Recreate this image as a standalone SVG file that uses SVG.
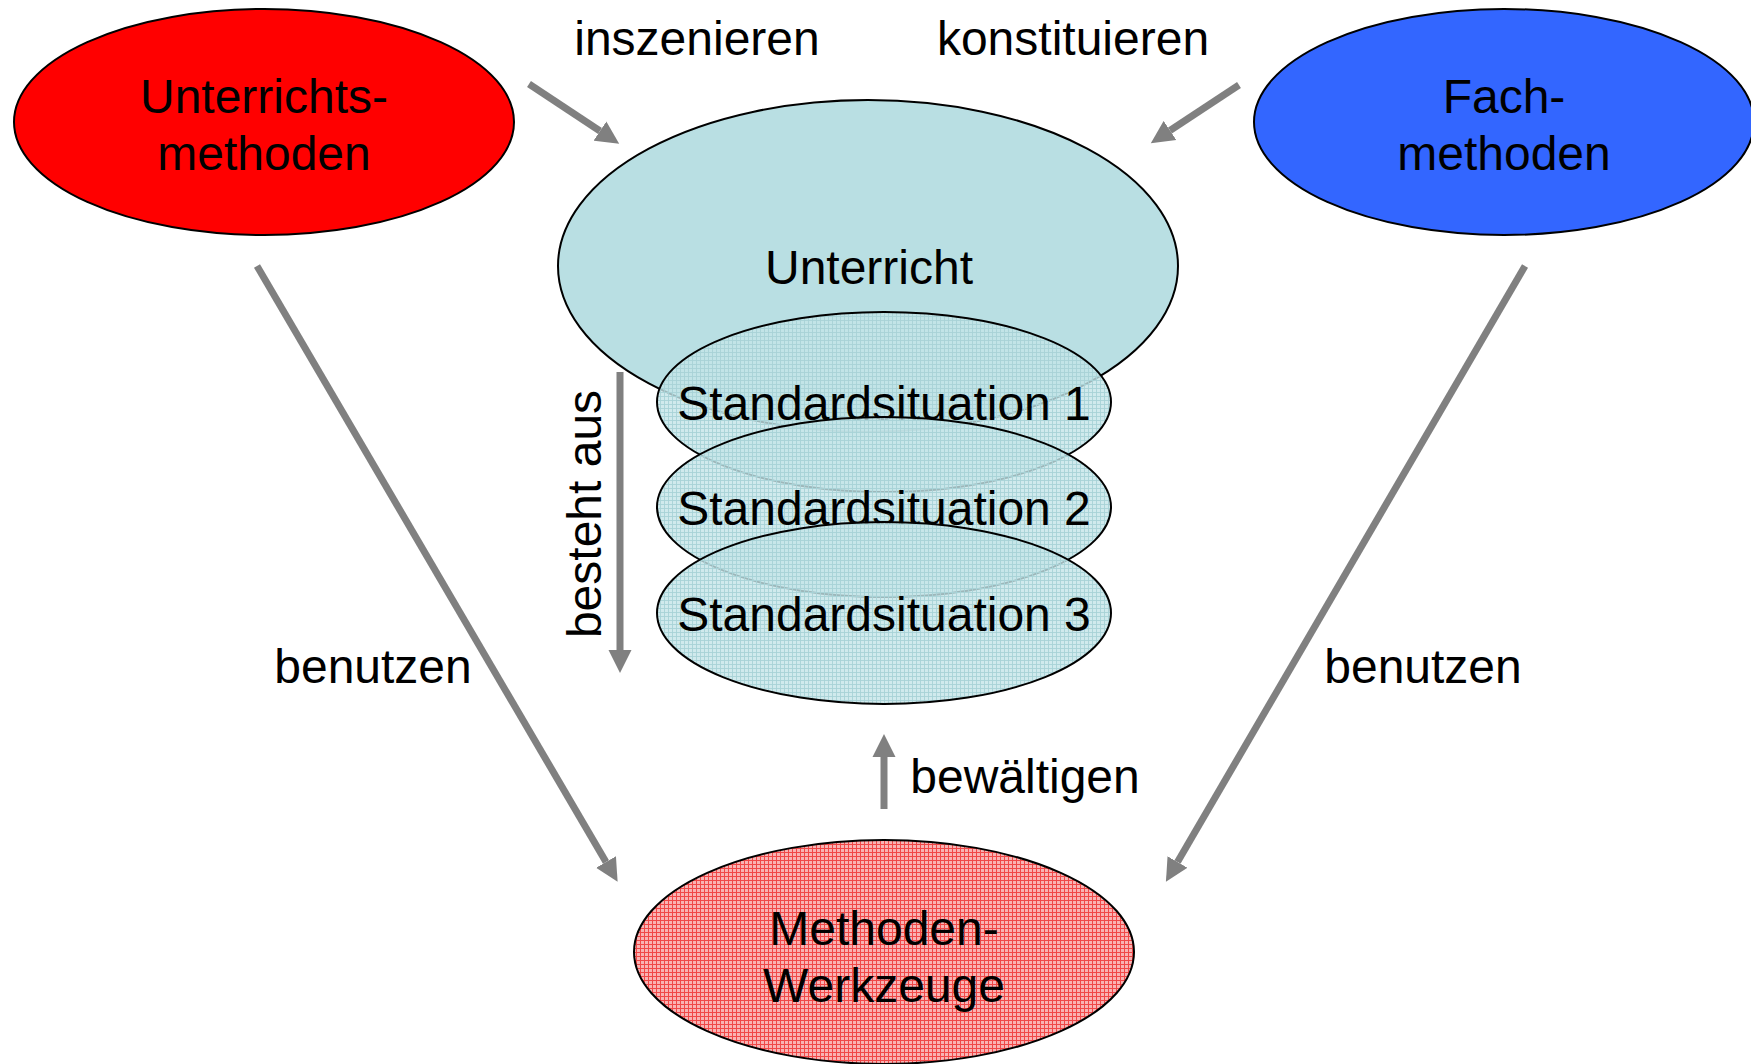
<svg xmlns="http://www.w3.org/2000/svg" width="1751" height="1064" viewBox="0 0 1751 1064">
<style>
text{font-family:"Liberation Sans",Arial,sans-serif;font-size:48px;fill:#000;text-anchor:middle}
.node{stroke:#000;stroke-width:2}
.conn line{stroke:#808080;stroke-width:7;marker-end:url(#ah)}
</style>
<defs>
<marker id="ah" markerUnits="userSpaceOnUse" markerWidth="24" markerHeight="24" viewBox="0 -12 24 24" refX="0" refY="0" orient="auto">
<path d="M0,-11.5 L23,0 L0,11.5 z" fill="#808080"/>
</marker>
<pattern id="pink" width="4" height="4" patternUnits="userSpaceOnUse">
<rect width="4" height="4" fill="#F9B3B3"/>
<path d="M0,0.5 H4 M0.5,0 V4" stroke="#F04848" stroke-width="1"/>
</pattern>
<pattern id="cyan" width="4" height="4" patternUnits="userSpaceOnUse">
<rect width="4" height="4" fill="#C4E5E8" fill-opacity="0.8"/>
<path d="M0,0.5 H4 M0.5,0 V4" stroke="#A9D3D8" stroke-width="1" stroke-opacity="0.9"/>
</pattern>
</defs>
<rect width="1751" height="1064" fill="#fff"/>
<g id="unterrichtsmethoden">
<ellipse class="node" cx="264" cy="122" rx="250" ry="113" fill="#FF0000"/>
<text x="264" y="113">Unterrichts-</text>
<text x="264" y="170">methoden</text>
</g>
<g id="fachmethoden">
<ellipse class="node" cx="1504" cy="122" rx="250" ry="113" fill="#3366FF"/>
<text x="1504" y="113">Fach-</text>
<text x="1504" y="170">methoden</text>
</g>
<g id="unterricht">
<ellipse class="node" cx="868" cy="266" rx="310" ry="166" fill="#B9DFE3"/>
<text x="869" y="284">Unterricht</text>
</g>
<g id="standardsituation1">
<ellipse class="node" cx="884" cy="402" rx="227" ry="90" fill="url(#cyan)"/>
<text x="884" y="420">Standardsituation 1</text>
</g>
<g id="standardsituation2">
<ellipse class="node" cx="884" cy="507" rx="227" ry="90" fill="url(#cyan)"/>
<text x="884" y="525">Standardsituation 2</text>
</g>
<g id="standardsituation3">
<ellipse class="node" cx="884" cy="613" rx="227" ry="91" fill="url(#cyan)"/>
<text x="884" y="631">Standardsituation 3</text>
</g>
<g id="methodenwerkzeuge">
<ellipse class="node" cx="884" cy="952" rx="250" ry="112" fill="url(#pink)"/>
<text x="884" y="945">Methoden-</text>
<text x="884" y="1002">Werkzeuge</text>
</g>
<g class="conn" id="connectors">
<line x1="529" y1="84" x2="600" y2="131"/>
<line x1="1239" y1="85" x2="1170" y2="130.5"/>
<line x1="620" y1="372" x2="620" y2="650"/>
<line x1="257" y1="266" x2="606" y2="862"/>
<line x1="1525" y1="266" x2="1177.5" y2="862"/>
<line x1="884" y1="809" x2="884" y2="757"/>
</g>
<g id="labels">
<text x="697" y="55">inszenieren</text>
<text x="1073" y="55">konstituieren</text>
<text x="601" y="514" transform="rotate(-90 601 514)">besteht aus</text>
<text x="373" y="683">benutzen</text>
<text x="1423" y="683">benutzen</text>
<text x="1025" y="793">bewältigen</text>
</g>
</svg>
